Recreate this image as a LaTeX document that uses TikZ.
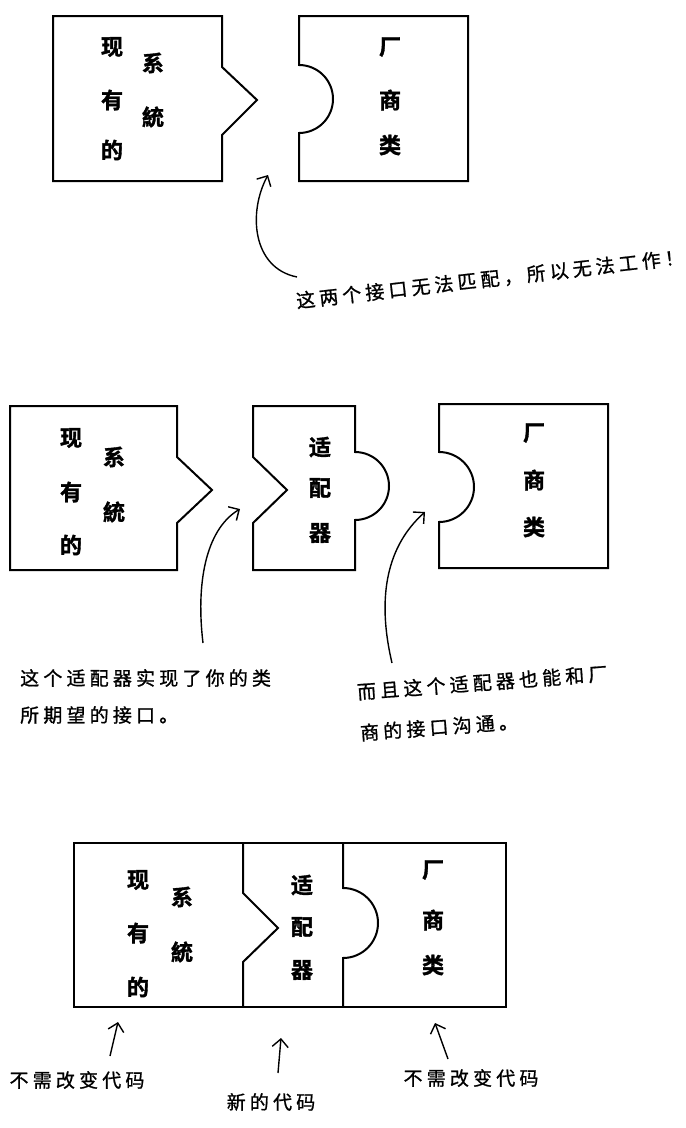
\documentclass[tikz,border=0pt]{standalone}
\usepackage{fontspec}
\newfontfamily\cjkbold[FakeBold=1.6]{Noto Sans CJK SC Bold}
\newfontfamily\cjknote[LetterSpace=22, FakeBold=1]{Noto Sans CJK SC}
\usetikzlibrary{arrows.meta}
\tikzset{
	piece/.style = {line width=2bp, line join=miter},
	boxtext/.style = {font=\cjkbold\fontsize{22bp}{26bp}\selectfont, inner sep=0pt},
	note/.style = {font=\cjknote\fontsize{19bp}{23bp}\selectfont, inner sep=0pt},
	hand/.style = {line width=1.4bp, -{Straight Barb[length=8bp,width=16bp]}}
}
\begin{document}
\begin{tikzpicture}[x = 1bp, y = -1bp]
	\useasboundingbox (0,0) rectangle (686,1128);
	% top: no match
	\draw[piece] (53,16)--(222,16)--(222,67)--(257,100)--(222,135)--(222,181)--(53,181)--cycle;
	\draw[piece] (299,16)--(468,16)--(468,181)--(299,181)--(299,133) arc[start angle=90, end angle=-90, radius=34]--cycle;
	\foreach \c/\y [count=\i] in {现/47,有/100,的/150}
		\node[boxtext] (sysA\i) at (112,\y) {\c};
	\foreach \c/\y [count=\i] in {系/63,統/117}
		\node[boxtext] (sysB\i) at (153,\y) {\c};
	\foreach \c/\y [count=\i] in {厂/47,商/100,类/145}
		\node[boxtext] (venA\i) at (390,\y) {\c};
	\coordinate (tipA) at (268,175);
	\coordinate (tailA) at (297,277);
	\node[note, rotate=6.5] (noteA) at (490,279) {这两个接口无法匹配，所以无法工作！};
	\draw[hand] (tailA) .. controls (252,268) and (248,212) .. (tipA);
	% middle: adapter apart
	\draw[piece] (10,406)--(177,406)--(177,457)--(212,490)--(177,523)--(177,570)--(10,570)--cycle;
	\draw[piece] (253,406)--(355,406)--(355,452) arc[start angle=-90, end angle=90, radius=34]--(355,570)--(253,570)--(253,523)--(287,490)--(253,457)--cycle;
	\draw[piece] (439,404)--(608,404)--(608,568)--(439,568)--(439,522) arc[start angle=90, end angle=-90, radius=35]--cycle;
	\foreach \c/\y [count=\i] in {现/438,有/492,的/545}
		\node[boxtext] (sysC\i) at (71,\y) {\c};
	\foreach \c/\y [count=\i] in {系/457,統/512}
		\node[boxtext] (sysD\i) at (114,\y) {\c};
	\foreach \c/\y [count=\i] in {适/447,配/488,器/533}
		\node[boxtext] (adpA\i) at (320,\y) {\c};
	\foreach \c/\y [count=\i] in {厂/433,商/480,类/527}
		\node[boxtext] (venB\i) at (534,\y) {\c};
	\coordinate (tipB) at (240,509);
	\coordinate (tailB) at (203,643);
	\coordinate (tipC) at (425,512);
	\coordinate (tailC) at (392,663);
	\draw[hand] (tailB) .. controls (196,585) and (205,530) .. (tipB);
	\draw[hand] (tailC) .. controls (376,595) and (388,545) .. (tipC);
	\node[note, anchor = west] (noteB1) at (20,678) {这个适配器实现了你的类};
	\node[note, anchor = west] (noteB2) at (20,715) {所期望的接口。};
	\node[note, anchor = west, rotate=4.3] (noteC1) at (357,692) {而且这个适配器也能和厂};
	\node[note, anchor = west, rotate=4.3] (noteC2) at (360,733) {商的接口沟通。};
	% bottom: fitted together
	\draw[piece] (74,843) rectangle (506,1007);
	\draw[piece] (243,843)--(243,893)--(278,928)--(243,962)--(243,1007);
	\draw[piece] (343,843)--(343,888) arc[start angle=-90, end angle=90, radius=35]--(343,1007);
	\foreach \c/\y [count=\i] in {现/880,有/933,的/987}
		\node[boxtext] (sysE\i) at (138,\y) {\c};
	\foreach \c/\y [count=\i] in {系/897,統/952}
		\node[boxtext] (sysF\i) at (182,\y) {\c};
	\foreach \c/\y [count=\i] in {适/885,配/927,器/970}
		\node[boxtext] (adpB\i) at (302,\y) {\c};
	\foreach \c/\y [count=\i] in {厂/870,商/920,类/965}
		\node[boxtext] (venC\i) at (433,\y) {\c};
	\node[note] (keepA) at (77,1080) {不需改变代码};
	\node[note] (newB) at (271,1102) {新的代码};
	\node[note] (keepC) at (471,1078) {不需改变代码};
	\coordinate (tailD) at (110,1056);
	\coordinate (tailE) at (278,1073);
	\coordinate (tailF) at (448,1059);
	\draw[hand] (tailD) -- (118,1022);
	\draw[hand] (tailE) -- (281,1038);
	\draw[hand] (tailF) -- (435,1023);
\end{tikzpicture}
\end{document}
